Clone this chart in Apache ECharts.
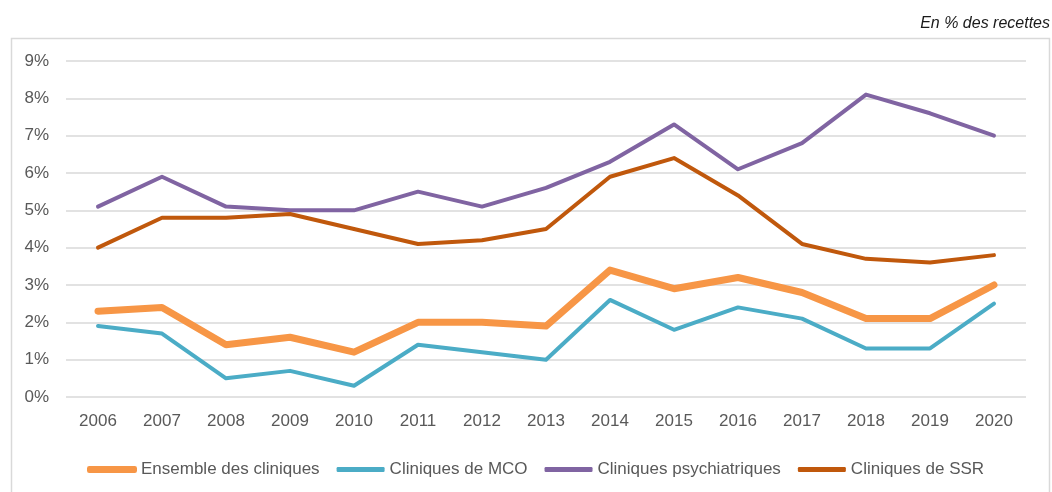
<!DOCTYPE html>
<html>
<head>
<meta charset="utf-8">
<script src="https://cdn.jsdelivr.net/npm/echarts@6/dist/echarts.min.js"></script>
<style>
html,body{margin:0;padding:0;background:#fff;}
#c{width:1052px;height:492px;}
</style>
</head>
<body>
<div id="c"></div>
<script>
const years = ['2006','2007','2008','2009','2010','2011','2012','2013','2014','2015','2016','2017','2018','2019','2020'];
const ensemble = [2.3, 2.4, 1.4, 1.6, 1.2, 2.0, 2.0, 1.9, 3.4, 2.9, 3.2, 2.8, 2.1, 2.1, 3.0];
const mco      = [1.9, 1.7, 0.5, 0.7, 0.3, 1.4, 1.2, 1.0, 2.6, 1.8, 2.4, 2.1, 1.3, 1.3, 2.5];
const psy      = [5.1, 5.9, 5.1, 5.0, 5.0, 5.5, 5.1, 5.6, 6.3, 7.3, 6.1, 6.8, 8.1, 7.6, 7.0];
const ssr      = [4.0, 4.8, 4.8, 4.9, 4.5, 4.1, 4.2, 4.5, 5.9, 6.4, 5.4, 4.1, 3.7, 3.6, 3.8];
const seriesNames = ['Ensemble des cliniques', 'Cliniques de MCO', 'Cliniques psychiatriques', 'Cliniques de SSR'];
const unitLabel = 'En % des recettes';

const colors = ['#F79646', '#4BACC6', '#8064A2', '#C0580C'];
const FONT = '"Liberation Sans", Arial, sans-serif';
const chart = echarts.init(document.getElementById('c'), null, {renderer: 'canvas'});
const mk = (i, data, width) => ({
  name: seriesNames[i], type: 'line', data, symbol: 'none', smooth: false,
  lineStyle: {color: colors[i], width, cap: 'round', join: 'round'},
  itemStyle: {color: colors[i]}
});
chart.setOption({
  animation: false,
  backgroundColor: '#fff',
  graphic: [
    {type: 'rect', left: 9, top: 36, shape: {x: 0, y: 0, width: 1038, height: 470},
     style: {fill: 'none', stroke: '#d9d9d9', lineWidth: 1.5}, z: -1},
    {type: 'text', right: 2, top: 16,
     style: {text: unitLabel, font: 'italic 16px "Liberation Sans", Arial, sans-serif', fill: '#1a1a1a'}}
  ],
  grid: {left: 66, right: 26, top: 61, bottom: 95, containLabel: false},
  legend: {
    left: 82, top: 456, itemWidth: 48, itemHeight: 5, itemGap: 17,
    icon: 'roundRect',
    textStyle: {fontFamily: FONT, fontSize: 17, color: '#595959'},
    data: seriesNames.map((n, i) => ({
      name: n,
      itemStyle: i === 0 ? {color: colors[i], borderColor: colors[i], borderWidth: 2} : {color: colors[i], borderWidth: 0}
    }))
  },
  xAxis: {
    type: 'category', data: years, boundaryGap: true,
    axisLine: {show: false}, axisTick: {show: false},
    axisLabel: {fontFamily: FONT, fontSize: 17, color: '#595959', margin: 16}
  },
  yAxis: {
    type: 'value', min: 0, max: 9, interval: 1,
    axisLine: {show: false}, axisTick: {show: false},
    axisLabel: {fontFamily: FONT, fontSize: 17, color: '#595959', margin: 17, formatter: '{value}%'},
    splitLine: {lineStyle: {color: '#d9d9d9', width: 1.5}}
  },
  series: [
    mk(0, ensemble, 7),
    mk(1, mco, 4),
    mk(2, psy, 4),
    mk(3, ssr, 4)
  ]
});
</script>
</body>
</html>
